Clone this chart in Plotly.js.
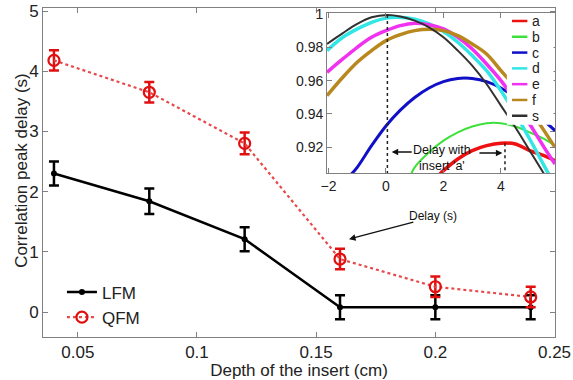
<!DOCTYPE html>
<html><head><meta charset="utf-8">
<script src="https://cdn.plot.ly/plotly-3.0.1.min.js"></script>
<style>html,body{margin:0;padding:0;background:#fff}</style>
</head><body><div id="chart" style="width:573px;height:380px"></div>
<script>
// ---- main chart data ----
const depth = [0.04, 0.08, 0.12, 0.16, 0.20, 0.24];
const lfmDelay = [2.30, 1.84, 1.21, 0.08, 0.08, 0.08];
const lfmErr = [0.20, 0.21, 0.20, 0.20, 0.20, 0.20];
const qfmDelay = [4.18, 3.65, 2.80, 0.88, 0.42, 0.25];
const qfmErr = [0.17, 0.17, 0.18, 0.17, 0.17, 0.17];

// ---- inset: correlation curves (delay vs correlation) ----
const aX = [1.88, 2.0, 2.5, 3.0, 3.5, 4.0, 4.5, 5.0, 5.5, 5.88];
const aY = [0.904, 0.906, 0.913, 0.918, 0.921, 0.9225, 0.922, 0.918, 0.915, 0.912];
const bX = [0.88, 1.0, 1.5, 2.0, 2.5, 3.0, 3.5, 4.0, 4.5, 5.0, 5.5, 5.88];
const bY = [0.904, 0.908, 0.917, 0.924, 0.929, 0.9325, 0.9345, 0.9345, 0.9325, 0.929, 0.925, 0.921];
const cX = [-1.2, -1.0, -0.5, 0.0, 0.5, 1.0, 1.5, 2.0, 2.5, 2.75, 3.0, 3.5, 4.0, 4.5, 5.0, 5.5, 5.88];
const cY = [0.904, 0.908, 0.921, 0.9328, 0.9423, 0.9499, 0.9556, 0.9594, 0.9613, 0.9615, 0.9613, 0.9594, 0.9556, 0.950, 0.944, 0.936, 0.930];
const dX = [-2.05, -1.5, -1.0, -0.5, 0.0, 0.4, 1.0, 1.5, 2.0, 2.5, 3.0, 3.5, 4.0, 4.5, 5.0, 5.5, 5.88];
const dY = [0.978, 0.986, 0.991, 0.995, 0.9975, 0.998, 0.9968, 0.994, 0.9895, 0.983, 0.975, 0.966, 0.954, 0.940, 0.925, 0.909, 0.897];
const eX = [-2.05, -1.5, -1.0, -0.5, 0.0, 0.5, 1.0, 1.5, 2.0, 2.5, 3.0, 3.5, 4.0, 4.5, 5.0, 5.5, 5.88];
const eY = [0.965, 0.973, 0.980, 0.986, 0.990, 0.993, 0.9944, 0.9935, 0.991, 0.986, 0.979, 0.970, 0.960, 0.948, 0.934, 0.920, 0.910];
const fX = [-2.05, -1.5, -1.0, -0.5, 0.0, 0.5, 1.0, 1.5, 2.0, 2.5, 3.0, 3.5, 4.0, 4.5, 5.0, 5.5, 5.88];
const fY = [0.951, 0.962, 0.971, 0.978, 0.984, 0.9876, 0.990, 0.9908, 0.990, 0.987, 0.982, 0.976, 0.966, 0.956, 0.943, 0.930, 0.920];
const sX = [-2.05, -1.5, -1.0, -0.5, 0.05, 0.5, 1.0, 1.5, 2.0, 2.5, 3.0, 3.5, 4.0, 4.5, 5.0, 5.5, 5.88];
const sY = [0.982, 0.9885, 0.994, 0.998, 0.9994, 0.9985, 0.996, 0.992, 0.986, 0.978, 0.969, 0.958, 0.945, 0.932, 0.918, 0.904, 0.893];
// peak positions marked by the dotted lines (reference s and curve a)
const peakDelay = [0.05, 4.14];
const peakCorr = [0.9994, 0.9224];

const insetNames = ['a', 'b', 'c', 'd', 'e', 'f', 's'];
const insetColors = ['#ee1111', '#3de03d', '#1010c8', '#33e6e6', '#f032f0', '#b8881e', '#303030'];
const insetWidths = [3.5, 2, 3, 3.5, 3.5, 3.5, 2];
const insetXs = [aX, bX, cX, dX, eX, fX, sX];
const insetYs = [aY, bY, cY, dY, eY, fY, sY];

const FONT = 'Liberation Sans, Arial, Helvetica, sans-serif';
const insetYMin = 0.9046;

const traces = [
  {x: depth, y: lfmDelay, name: 'LFM', type: 'scatter', mode: 'lines+markers',
   line: {color: '#000', width: 2.5}, marker: {color: '#000', size: 6, symbol: 'circle'},
   error_y: {type: 'data', array: lfmErr, visible: true, color: '#000', thickness: 2.5, width: 5}},
  {x: depth, y: qfmDelay, name: 'QFM', type: 'scatter', mode: 'lines+markers',
   line: {color: '#e8484a', width: 2.2, dash: 'dot'},
   marker: {color: '#e01010', size: 11, symbol: 'circle-open', line: {color: '#e01010', width: 2.2}},
   error_y: {type: 'data', array: qfmErr, visible: true, color: '#e01010', thickness: 2.5, width: 5}}
];
insetNames.forEach((n, i) => {
  traces.push({x: insetXs[i], y: insetYs[i], name: n, xaxis: 'x2', yaxis: 'y2', type: 'scatter',
    mode: 'lines', line: {color: insetColors[i], width: insetWidths[i], shape: 'spline'}, showlegend: false});
});
peakDelay.forEach((d, i) => {
  traces.push({x: [d, d], y: [peakCorr[i], insetYMin], xaxis: 'x2', yaxis: 'y2', mode: 'lines',
    line: {color: '#222', width: 1.5, dash: 'dot'}, showlegend: false, hoverinfo: 'skip'});
});

// inset legend drawn as shapes + annotations
const legTop = 0.9605, legStep = 0.048;
const shapes = [{type: 'rect', xref: 'paper', yref: 'paper', x0: 0.906, x1: 0.997, y0: 0.645, y1: 0.984,
  fillcolor: '#fff', line: {width: 0}, layer: 'above'}];
const annotations = [];
insetNames.forEach((n, i) => {
  const yy = legTop - i * legStep;
  shapes.push({type: 'line', xref: 'paper', yref: 'paper', x0: 0.916, x1: 0.946, y0: yy, y1: yy,
    line: {color: insetColors[i], width: 2.5}, layer: 'above'});
  annotations.push({xref: 'paper', yref: 'paper', x: 0.951, y: yy, text: n, showarrow: false,
    xanchor: 'left', yanchor: 'middle', font: {family: FONT, size: 14, color: '#222'}});
});
annotations.push(
  {xref: 'paper', yref: 'paper', x: -0.041, y: 0.505, text: 'Correlation peak delay (s)', textangle: -90,
   showarrow: false, xanchor: 'center', yanchor: 'middle', font: {family: FONT, size: 17, color: '#222'}},
  {xref: 'x', yref: 'y', x: 0.199, y: 1.6, text: 'Delay (s)', showarrow: false,
   font: {family: FONT, size: 12, color: '#111'}},
  {xref: 'x', yref: 'y', x: 0.1638, y: 1.21, ax: 0.1914, ay: 1.5, axref: 'x', ayref: 'y', text: '',
   showarrow: true, arrowhead: 2, arrowsize: 1, arrowwidth: 1.3, arrowcolor: '#111'},
  {xref: 'x2', yref: 'y2', x: 1.95, y: 0.9138, text: 'Delay with<br>insert \'a\'', showarrow: false,
   font: {family: FONT, size: 12.5, color: '#111'}},
  {xref: 'x2', yref: 'y2', x: 0.2, y: 0.9172, ax: 0.95, ay: 0.9172, axref: 'x2', ayref: 'y2', text: '',
   showarrow: true, arrowhead: 2, arrowsize: 1, arrowwidth: 1.3, arrowcolor: '#111'},
  {xref: 'x2', yref: 'y2', x: 4.05, y: 0.9166, ax: 3.2, ay: 0.9166, axref: 'x2', ayref: 'y2', text: '',
   showarrow: true, arrowhead: 2, arrowsize: 1, arrowwidth: 1.3, arrowcolor: '#111'}
);

const axBase = {showline: true, linecolor: '#808080', linewidth: 1, mirror: 'ticks', ticks: 'inside',
  tickcolor: '#808080', ticklen: 5, showgrid: false, zeroline: false, automargin: false};

const layout = {
  width: 573, height: 380, paper_bgcolor: '#fff', plot_bgcolor: 'rgba(0,0,0,0)',
  margin: {l: 43, r: 18, t: 8, b: 43},
  font: {family: FONT, color: '#222'},
  showlegend: true,
  legend: {x: 0.037, y: 0.19, xanchor: 'left', yanchor: 'top', bgcolor: 'rgba(0,0,0,0)',
    font: {family: FONT, size: 17, color: '#222'}, tracegroupgap: 0},
  xaxis: Object.assign({}, axBase, {range: [0.0354, 0.2502], dtick: 0.05, tick0: 0,
    tickfont: {family: FONT, size: 17, color: '#222'},
    title: {text: 'Depth of the insert (cm)', font: {family: FONT, size: 17, color: '#222'}, standoff: 4}}),
  yaxis: Object.assign({}, axBase, {range: [-0.415, 5.05], dtick: 1, tick0: 0,
    tickfont: {family: FONT, size: 17, color: '#222'}}),
  xaxis2: Object.assign({}, axBase, {domain: [0.5547, 1], anchor: 'y2', range: [-2.05, 5.88], dtick: 2, tick0: 0,
    tickfont: {family: FONT, size: 14, color: '#222'}}),
  yaxis2: Object.assign({}, axBase, {domain: [0.4985, 0.985], anchor: 'x2', range: [insetYMin, 1.0006], dtick: 0.02, tick0: 0,
    tickfont: {family: FONT, size: 14, color: '#222'}}),
  shapes: shapes,
  annotations: annotations
};

Plotly.newPlot('chart', traces, layout, {staticPlot: true, displayModeBar: false});
</script></body></html>
